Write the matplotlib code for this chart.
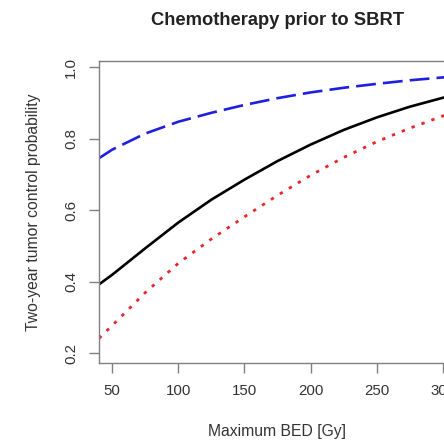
import matplotlib
matplotlib.use("Agg")
import matplotlib.pyplot as plt

plt.rcParams['font.family'] = ['Liberation Sans', 'DejaVu Sans']

# values (Maximum BED in Gy -> 2-year TCP)
bed = [40, 50, 75, 100, 125, 150, 175, 200, 225, 250, 275, 300, 310]
tcp_mean = [0.393, 0.420, 0.494, 0.566, 0.630, 0.686, 0.738, 0.784, 0.825, 0.860, 0.890, 0.915, 0.923]
tcp_upper = [0.746, 0.770, 0.815, 0.848, 0.873, 0.895, 0.914, 0.930, 0.943, 0.954, 0.964, 0.972, 0.975]
tcp_lower = [0.242, 0.278, 0.370, 0.452, 0.520, 0.582, 0.642, 0.698, 0.748, 0.792, 0.830, 0.864, 0.876]

x_ticks = [50, 100, 150, 200, 250, 300]
y_ticks = [0.2, 0.4, 0.6, 0.8, 1.0]

fig = plt.figure(figsize=(4.44, 4.40), dpi=100)
ax = fig.add_axes([0.223, 0.175, 1.027 - 0.223, 0.8614 - 0.175])

ax.plot(bed, tcp_mean, color='black', lw=1.9, solid_capstyle='butt')
ax.plot(bed, tcp_upper, color='#1f1fe0', lw=1.9, dashes=(7.5, 2.7))
ax.plot(bed, tcp_lower, color='#e8262b', lw=2.0, dashes=(1.2, 2.6))

ax.set_xlim(40, 310)
ax.set_ylim(0.173, 1.018)
ax.set_xticks(x_ticks)
ax.set_yticks(y_ticks)
ax.set_yticklabels([f"{v:.1f}" for v in y_ticks], rotation=90, va='center')

txt = '#333333'
for s in ax.spines.values():
    s.set_color('#808080')
    s.set_linewidth(1.0)
ax.tick_params(direction='out', length=7, width=1.0, color='#808080',
               labelcolor=txt, labelsize=10.8, pad=8)

ax.set_title('Chemotherapy prior to SBRT', fontsize=13.2, fontweight='bold',
             color='#222222', pad=26)
ax.set_xlabel('Maximum BED [Gy]', fontsize=11.3, color=txt, labelpad=19)
ax.set_ylabel('Two-year tumor control probability', fontsize=11.3, color=txt, labelpad=17)

fig.savefig('out.png', dpi=100)
